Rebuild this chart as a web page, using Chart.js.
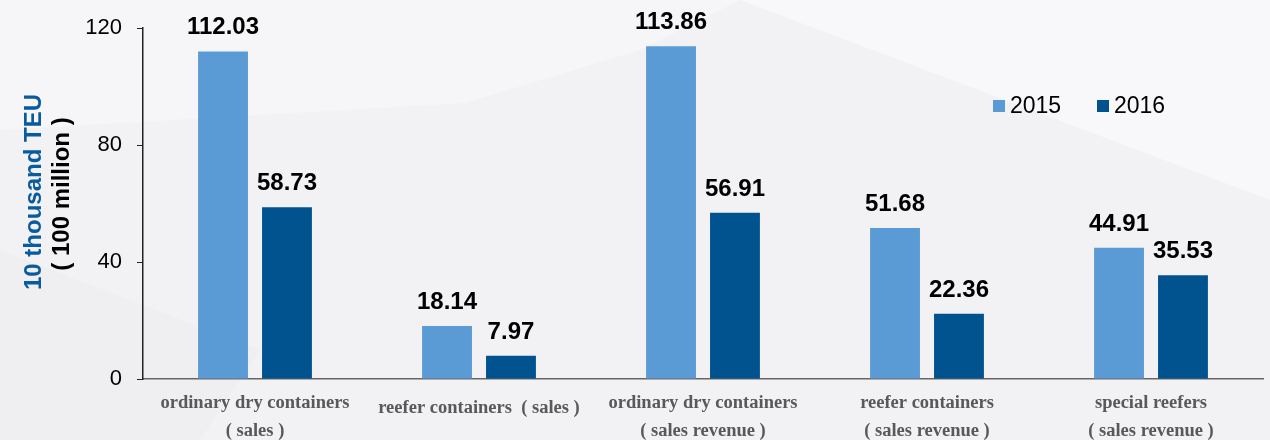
<!DOCTYPE html>
<html>
<head>
<meta charset="utf-8">
<script src="https://cdn.jsdelivr.net/npm/chart.js@4/dist/chart.umd.min.js"></script>
<style>
  html, body { margin: 0; padding: 0; background: #f2f2f4; }
  #wrap { width: 1270px; height: 440px; position: relative; }
</style>
</head>
<body>
<div id="wrap"><canvas id="bars"></canvas></div>
<script>
const categories = [
  ["ordinary dry containers", "( sales )"],
  ["reefer containers  ( sales )"],
  ["ordinary dry containers", "( sales revenue )"],
  ["reefer containers", "( sales revenue )"],
  ["special reefers", "( sales revenue )"]
];
const years = ["2015", "2016"];
const values2015 = [112.03, 18.14, 113.86, 51.68, 44.91];
const values2016 = [58.73, 7.97, 56.91, 22.36, 35.53];
const yTicks = [0, 40, 80, 120];
const colors = ["#5b9bd5", "#01538f"];

// faint light shapes behind the plot
const backdrop = {
  id: "backdrop",
  beforeDraw(chart) {
    const c = chart.ctx;
    c.save();
    c.fillStyle = "#f2f2f4";
    c.fillRect(0, 0, chart.width, chart.height);
    c.fillStyle = "#f6f6f8";
    c.beginPath();
    c.moveTo(0, 130); c.lineTo(465, 103); c.lineTo(640, 50); c.lineTo(740, 0);
    c.lineTo(0, 0); c.closePath(); c.fill();
    c.fillStyle = "#f8f8fa";
    c.beginPath();
    c.moveTo(740, 0); c.lineTo(1270, 200); c.lineTo(1270, 0); c.closePath(); c.fill();
    c.fillStyle = "#efeff1";
    c.beginPath();
    c.moveTo(0, 250); c.lineTo(260, 350); c.lineTo(200, 440); c.lineTo(0, 440); c.closePath(); c.fill();
    c.restore();
  }
};

// value labels above each bar
const valueLabels = {
  id: "valueLabels",
  afterDatasetsDraw(chart) {
    const c = chart.ctx;
    c.save();
    c.font = "bold 24px 'Liberation Sans', Arial, sans-serif";
    c.fillStyle = "#000";
    c.textAlign = "center";
    c.textBaseline = "alphabetic";
    chart.data.datasets.forEach((ds, i) => {
      chart.getDatasetMeta(i).data.forEach((bar, j) => {
        c.fillText(ds.data[j].toFixed(2), bar.x, bar.y - 17);
      });
    });
    c.restore();
  }
};

// legend in the upper right and the two-colour y title
const extras = {
  id: "extras",
  afterDraw(chart) {
    const c = chart.ctx;
    c.save();
    c.font = "23px 'Liberation Sans', Arial, sans-serif";
    c.textBaseline = "middle";
    const legendX = [993, 1097];
    chart.data.datasets.forEach((ds, i) => {
      c.fillStyle = ds.backgroundColor;
      c.fillRect(legendX[i], 100, 12, 12);
      c.fillStyle = "#000";
      c.fillText(ds.label, legendX[i] + 17, 107);
    });

    c.translate(0, 192);
    c.rotate(-Math.PI / 2);
    c.textAlign = "center";
    c.font = "bold 24px 'Liberation Sans', Arial, sans-serif";
    c.fillStyle = "#0a5aa0";
    c.fillText("10 thousand TEU", 0, 34);
    c.fillStyle = "#000";
    c.fillText("( 100 million )", -2, 62);
    c.restore();
  }
};

new Chart(document.getElementById("bars"), {
  type: "bar",
  data: {
    labels: categories,
    datasets: [
      { label: years[0], data: values2015, backgroundColor: colors[0] },
      { label: years[1], data: values2016, backgroundColor: colors[1] }
    ]
  },
  options: {
    responsive: true,
    maintainAspectRatio: false,
    animation: false,
    categoryPercentage: 0.571,
    barPercentage: 0.78,
    layout: { padding: { top: 25, right: 7, left: 0, bottom: 0 } },
    plugins: {
      legend: { display: false },
      tooltip: { enabled: false }
    },
    scales: {
      x: {
        grid: { display: false, drawTicks: false },
        border: { display: true, color: "#666", width: 1.5 },
        ticks: {
          padding: 10,
          maxRotation: 0,
          autoSkip: false,
          color: "#595959",
          font: (ctx) => ({
            family: "'Liberation Serif', 'Times New Roman', serif",
            size: 18.5,
            weight: "bold",
            lineHeight: ctx.index === 1 ? "38px" : "28px"
          })
        },
        afterFit(scale) { scale.height = 61; }
      },
      y: {
        min: 0,
        max: 120,
        afterBuildTicks(scale) { scale.ticks = yTicks.map(v => ({ value: v })); },
        grid: { drawOnChartArea: false, tickLength: 6, color: "#222" },
        border: { display: true, color: "#222", width: 1.5 },
        ticks: {
          padding: 15,
          color: "#000",
          font: { family: "'Liberation Sans', Arial, sans-serif", size: 22 }
        },
        afterFit(scale) { scale.width = 143; }
      }
    }
  },
  plugins: [backdrop, valueLabels, extras]
});
</script>
</body>
</html>
